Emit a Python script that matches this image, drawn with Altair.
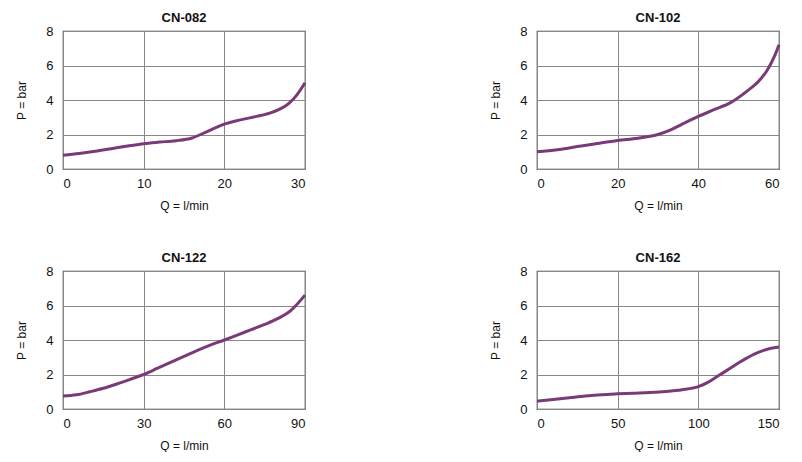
import altair as alt
import pandas as pd

titles = ["CN-082", "CN-102", "CN-122", "CN-162"]
x_max = [30, 60, 90, 150]
x_ticks = [[0, 10, 20, 30], [0, 20, 40, 60], [0, 30, 60, 90], [0, 50, 100, 150]]

q_082 = [0, 2, 4, 6, 8, 10, 12, 14, 16, 18, 20, 22, 24, 26, 28, 29, 30]
p_082 = [0.8, 0.9, 1.03, 1.18, 1.33, 1.47, 1.56, 1.64, 1.8, 2.2, 2.6, 2.85, 3.05, 3.3, 3.8, 4.3, 5.0]

q_102 = [0, 5, 10, 15, 20, 25, 28, 30, 33, 36, 40, 44, 48, 52, 55, 57, 59, 60]
p_102 = [1.0, 1.12, 1.3, 1.48, 1.65, 1.78, 1.9, 2.0, 2.25, 2.6, 3.05, 3.45, 3.85, 4.5, 5.1, 5.7, 6.6, 7.2]

q_122 = [0, 5, 10, 15, 20, 25, 30, 35, 40, 45, 50, 55, 60, 65, 70, 75, 80, 85, 90]
p_122 = [0.75, 0.82, 1.0, 1.2, 1.45, 1.72, 2.0, 2.35, 2.7, 3.05, 3.4, 3.72, 4.0, 4.3, 4.6, 4.9, 5.25, 5.75, 6.6]

q_162 = [0, 10, 20, 30, 40, 50, 60, 70, 80, 90, 100, 105, 110, 115, 120, 125, 130, 135, 140, 145, 150]
p_162 = [0.45, 0.55, 0.65, 0.75, 0.83, 0.88, 0.92, 0.96, 1.02, 1.12, 1.3, 1.5, 1.78, 2.08, 2.38, 2.68, 2.95, 3.2, 3.38, 3.52, 3.6]

series = [(q_082, p_082), (q_102, p_102), (q_122, p_122), (q_162, p_162)]

FONT = "Liberation Sans"
LINE = "#7a3a78"


def panel(i):
    q, p = series[i]
    df = pd.DataFrame({"Q": q, "P": p})
    return (
        alt.Chart(df)
        .mark_line(color=LINE, strokeWidth=3, interpolate="monotone")
        .encode(
            x=alt.X(
                "Q:Q",
                scale=alt.Scale(domain=[0, x_max[i]], nice=False),
                axis=alt.Axis(values=x_ticks[i], title="Q = l/min"),
            ),
            y=alt.Y(
                "P:Q",
                scale=alt.Scale(domain=[0, 8], nice=False),
                axis=alt.Axis(values=[0, 2, 4, 6, 8], title="P = bar"),
            ),
        )
        .properties(
            width=242,
            height=138,
            title=alt.TitleParams(titles[i], fontSize=13, font=FONT, fontWeight="bold", offset=0, color="#111111"),
        )
    )


row1 = alt.hconcat(panel(0), panel(1), spacing=177)
row2 = alt.hconcat(panel(2), panel(3), spacing=177)
chart = (
    alt.vconcat(
        row1, row2, spacing=39, background="white",
        padding={"left": 7, "top": 3, "right": 5, "bottom": 0},
    )
    .configure_view(stroke="#333333", strokeWidth=1.2)
    .configure_axis(
        labelFont=FONT,
        titleFont=FONT,
        labelFontSize=13,
        titleFontSize=12,
        titleFontWeight="normal",
        labelColor="#111111",
        titleColor="#111111",
        grid=True,
        gridColor="#888888",
        gridWidth=1,
        domain=False,
        ticks=False,
    )
    .configure_axisX(labelPadding=8, titlePadding=10)
    .configure_axisY(labelPadding=10, titlePadding=17)
)

chart.save("out.html", embed_options={"renderer": "svg", "actions": False})
